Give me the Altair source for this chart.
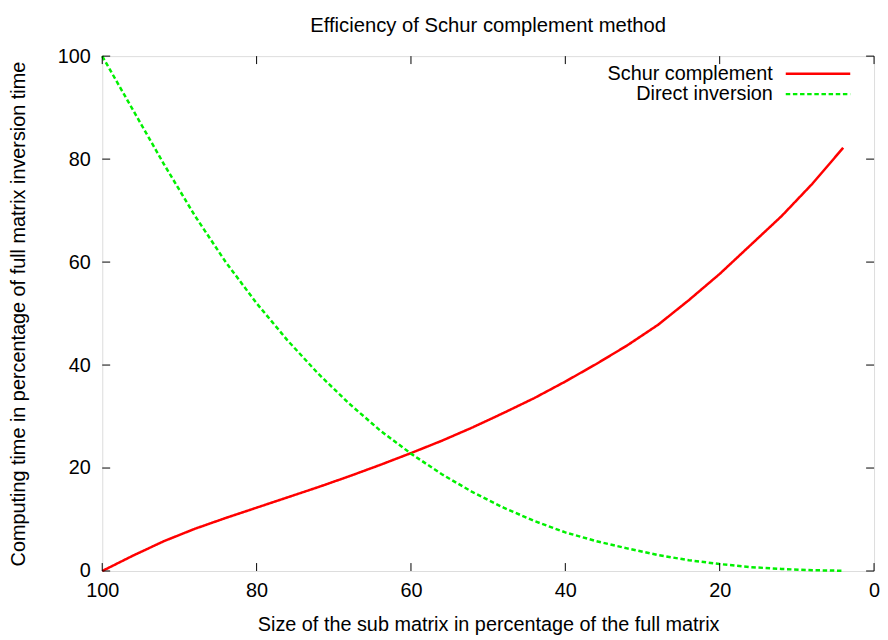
import altair as alt
import pandas as pd

# ---- data ----
sizes = [100, 96, 92, 88, 84, 80, 76, 72, 68, 64, 60, 56, 52, 48, 44, 40, 36, 32, 28, 24, 20, 16, 12, 8, 4]
schur = [0.0, 3.0, 5.8, 8.2, 10.3, 12.3, 14.3, 16.3, 18.4, 20.6, 22.9, 25.3, 27.9, 30.7, 33.6,
         36.8, 40.2, 43.8, 47.8, 52.6, 57.7, 63.3, 68.9, 75.2, 82.2]
direct = [100.0, 89.5, 79.0, 69.0, 60.0, 52.0, 44.8, 38.3, 32.5, 27.3, 22.8, 18.8, 15.3, 12.3, 9.7,
          7.5, 5.8, 4.4, 3.1, 2.1, 1.35, 0.75, 0.4, 0.15, 0.05]
series_names = ["Schur complement", "Direct inversion"]
series_colors = ["#ff0000", "#00f000"]
tick_values = [0, 20, 40, 60, 80, 100]

title_text = "Efficiency of Schur complement method"
x_title = "Size of the sub matrix in percentage of the full matrix"
y_title = "Computing time in percentage of full matrix inversion time"

FONT = "Liberation Sans"
W, H = 778, 519

rows = []
for s, v in zip(sizes, schur):
    rows.append({"size": s, "time": v, "series": series_names[0]})
for s, v in zip(sizes, direct):
    rows.append({"size": s, "time": v, "series": series_names[1]})
df = pd.DataFrame(rows)

xscale = alt.Scale(domain=[0, 100], reverse=True, nice=False, zero=False)
yscale = alt.Scale(domain=[0, 100], nice=False)

xaxis = alt.Axis(values=tick_values, title=x_title, ticks=False, domain=False, grid=False,
                 labelPadding=10, titlePadding=14, labelFontSize=20, titleFontSize=20,
                 labelFont=FONT, titleFont=FONT, labelColor="black", titleColor="black",
                 titleFontWeight="normal", labelFlush=False)
yaxis = alt.Axis(values=tick_values, title=y_title, ticks=False, domain=False, grid=False,
                 labelPadding=12, titlePadding=29, labelFontSize=20, titleFontSize=20,
                 labelFont=FONT, titleFont=FONT, labelColor="black", titleColor="black",
                 titleFontWeight="normal", labelFlush=False)

lines = alt.Chart(df).mark_line(strokeWidth=2.5, strokeCap="butt").encode(
    x=alt.X("size:Q", scale=xscale, axis=xaxis),
    y=alt.Y("time:Q", scale=yscale, axis=yaxis),
    color=alt.Color("series:N", scale=alt.Scale(domain=series_names, range=series_colors), legend=None),
    strokeDash=alt.StrokeDash("series:N", scale=alt.Scale(domain=series_names, range=[[1, 0], [4.5, 2.7]]),
                              legend=None),
    detail="series:N",
)

xt_df = pd.DataFrame({"size": tick_values})
yt_df = pd.DataFrame({"time": tick_values})
tick_len = 8
xt_bottom = alt.Chart(xt_df).mark_rule(color="black", strokeWidth=1).encode(
    x=alt.X("size:Q", scale=xscale, axis=xaxis), y=alt.value(H), y2=alt.value(H - tick_len))
xt_top = alt.Chart(xt_df).mark_rule(color="black", strokeWidth=1).encode(
    x=alt.X("size:Q", scale=xscale, axis=xaxis), y=alt.value(0), y2=alt.value(tick_len))
yt_left = alt.Chart(yt_df).mark_rule(color="black", strokeWidth=1).encode(
    y=alt.Y("time:Q", scale=yscale, axis=yaxis), x=alt.value(0), x2=alt.value(tick_len))
yt_right = alt.Chart(yt_df).mark_rule(color="black", strokeWidth=1).encode(
    y=alt.Y("time:Q", scale=yscale, axis=yaxis), x=alt.value(W), x2=alt.value(W - tick_len))

# chart title as a text mark above the plot area
title_layer = alt.Chart(pd.DataFrame({"t": [title_text]})).mark_text(
    align="center", baseline="alphabetic", font=FONT, fontSize=20.4, color="black").encode(
    text="t:N", x=alt.value(W / 2), y=alt.value(-24))

# legend (gnuplot style: label left of sample)
leg_layers = []
leg_rows = [17.7, 38.3]
dashes = [[1, 0], [4.5, 2.7]]
for name, col, yy, dash in zip(series_names, series_colors, leg_rows, dashes):
    ldf = pd.DataFrame({"t": [name]})
    leg_layers.append(alt.Chart(ldf).mark_text(align="right", baseline="middle", font=FONT,
                                               fontSize=20, color="black").encode(
        text="t:N", x=alt.value(676), y=alt.value(yy)))
    leg_layers.append(alt.Chart(ldf).mark_rule(color=col, strokeWidth=2.5, strokeDash=dash,
                                               strokeCap="butt").encode(
        x=alt.value(689), x2=alt.value(754), y=alt.value(yy)))

chart = alt.layer(lines, xt_bottom, xt_top, yt_left, yt_right, title_layer, *leg_layers).properties(
    width=W, height=H,
    autosize=alt.AutoSizeParams(type="none"),
    padding={"left": 95, "top": 46, "right": 6, "bottom": 64},
).configure_view(stroke="black", strokeWidth=1.2).configure(background="white")

chart.save("out.html", embed_options={"renderer": "svg", "actions": False})
